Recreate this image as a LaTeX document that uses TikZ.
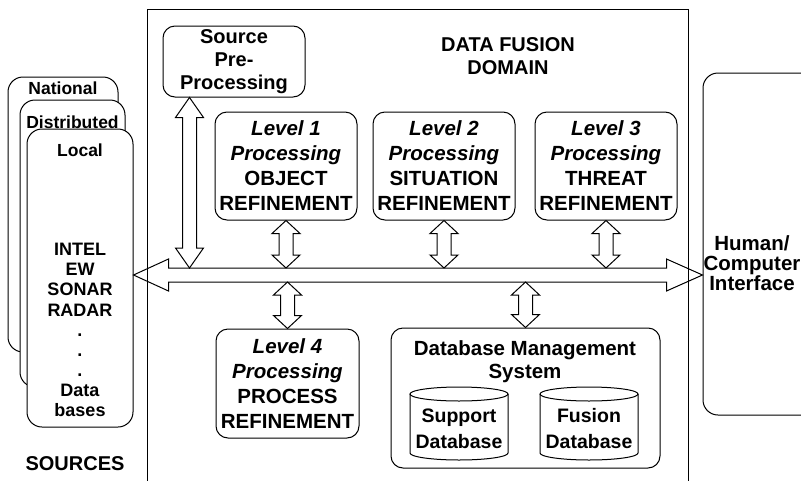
\documentclass[tikz,border=0pt]{standalone}
\usepackage{fontspec}
\setmainfont{Liberation Sans}
\usetikzlibrary{calc}

% double-headed block arrow, vertical: #1 head length, #2 top tip, #3 bottom tip
\newcommand{\vlink}[3][13pt]{%
  \draw[blk] let \p1=(#2), \p2=(#3) in
    (\x1,\y1) -- (\x1+14pt,\y1-#1) -- (\x1+7pt,\y1-#1) -- (\x1+7pt,\y2+#1)
    -- (\x1+14pt,\y2+#1) -- (\x1,\y2) -- (\x1-14pt,\y2+#1) -- (\x1-7pt,\y2+#1)
    -- (\x1-7pt,\y1-#1) -- (\x1-14pt,\y1-#1) -- cycle;}

% database drum: center x, top ellipse centre y, bottom ellipse centre y
\newcommand{\drum}[3]{%
  \draw[fill=white] (#1-49,#2) -- (#1-49,#3)
    arc[start angle=180,end angle=360,x radius=49pt,y radius=7pt] -- (#1+49,#2);
  \draw (#1,#2) ellipse[x radius=49pt,y radius=7pt];}

\begin{document}
\begin{tikzpicture}[x=1pt,y=-1pt,line width=1pt,line join=miter,
  big/.style={font=\fontsize{20}{23}\selectfont\bfseries,align=center,inner sep=0pt},
  small/.style={font=\fontsize{17.5}{20}\selectfont\bfseries,align=center,inner sep=0pt},
  rbox/.style={draw,fill=white,rounded corners=12pt,inner sep=0pt},
  srcbox/.style={draw,fill=white,rounded corners=15pt,inner sep=0pt},
  lvl/.style={rbox,big,font=\fontsize{20.5}{25}\selectfont\bfseries,
              minimum width=142pt,minimum height=108pt},
  blk/.style={draw,line width=1pt}]

\clip (0,0) rectangle (801,480);

% domain frame (runs past the lower edge)
\draw (147,9) rectangle (688,520);

% stacked source boxes
\node[srcbox,minimum width=110pt,minimum height=275pt] (nat) at (63,214.5) {};
\node[srcbox,minimum width=105pt,minimum height=287pt] (dist) at (72.5,243.5) {};
\node[srcbox,minimum width=106pt,minimum height=298pt] (loc) at (80,278) {};
\node[small] (natt) at (63,88) {National};
\node[small] (distt) at (72.5,122) {Distributed};
\node[small] (loct) at (80,150) {Local};
\node[small,font=\fontsize{18}{20.1}\selectfont\bfseries] (list) at (80,330)
  {INTEL\\EW\\SONAR\\RADAR\\.\\.\\.\\Data\\bases};
\node[big] (srcl) at (75,464) {SOURCES};

% human / computer interface (runs past the right edge)
\node[srcbox,minimum width=127pt,minimum height=342pt] (hci) at (766.5,244) {};
\node[big,font=\fontsize{20.5}{20}\selectfont\bfseries] (hcit) at (752,263)
  {Human/\\Computer\\Interface};

% title
\node[big] (title) at (508,56.5) {DATA FUSION\\DOMAIN};

% processing boxes
\node[rbox,big,minimum width=142pt,minimum height=71pt] (pre) at (234,61.5)
  {Source\\Pre-\\Processing};
\node[lvl] (l1) at (286,166) {\textit{Level 1}\\\textit{Processing}\\OBJECT\\REFINEMENT};
\node[lvl] (l2) at (444,166) {\textit{Level 2}\\\textit{Processing}\\SITUATION\\REFINEMENT};
\node[lvl] (l3) at (606,166) {\textit{Level 3}\\\textit{Processing}\\THREAT\\REFINEMENT};
\node[lvl,minimum width=143pt,minimum height=109pt] (l4) at (287.5,383.5)
  {\textit{Level 4}\\\textit{Processing}\\PROCESS\\REFINEMENT};

% database management system
\node[rbox,minimum width=269pt,minimum height=140pt] (dbms) at (525.5,398) {};
\node[big,font=\fontsize{20.5}{23}\selectfont\bfseries] (dbmst) at (525,361.5)
  {Database Management\\System};
\drum{459}{394}{453}
\drum{589}{394}{453}
\node[big,font=\fontsize{19.5}{26}\selectfont\bfseries] (supp) at (459,429) {Support\\Database};
\node[big,font=\fontsize{19.5}{26}\selectfont\bfseries] (fus) at (589,429) {Fusion\\Database};

% bus
\coordinate (busL) at (loc.east |- 0,275);
\coordinate (busR) at (hci.west |- 0,275);
\coordinate (busT) at (0,268);
\coordinate (busB) at (0,282);
\draw[blk] let \p1=(busL), \p2=(busR) in
  (\x1,\y1) -- (\x1+35pt,\y1+16pt) -- (\x1+35pt,\y1+7pt) -- (\x2-36pt,\y1+7pt)
  -- (\x2-36pt,\y1+16pt) -- (\x2,\y1) -- (\x2-36pt,\y1-16pt) -- (\x2-36pt,\y1-7pt)
  -- (\x1+35pt,\y1-7pt) -- (\x1+35pt,\y1-16pt) -- cycle;

% links to the bus
\coordinate (preA) at ([xshift=27pt]pre.south west);
\vlink[20pt]{preA}{preA |- busT}
\vlink{l1.south}{l1.south |- busT}
\vlink{l2.south}{l2.south |- busT}
\vlink{l3.south}{l3.south |- busT}
\vlink{l4.north |- busB}{l4.north}
\vlink{dbms.north |- busB}{dbms.north}
\end{tikzpicture}
\end{document}
